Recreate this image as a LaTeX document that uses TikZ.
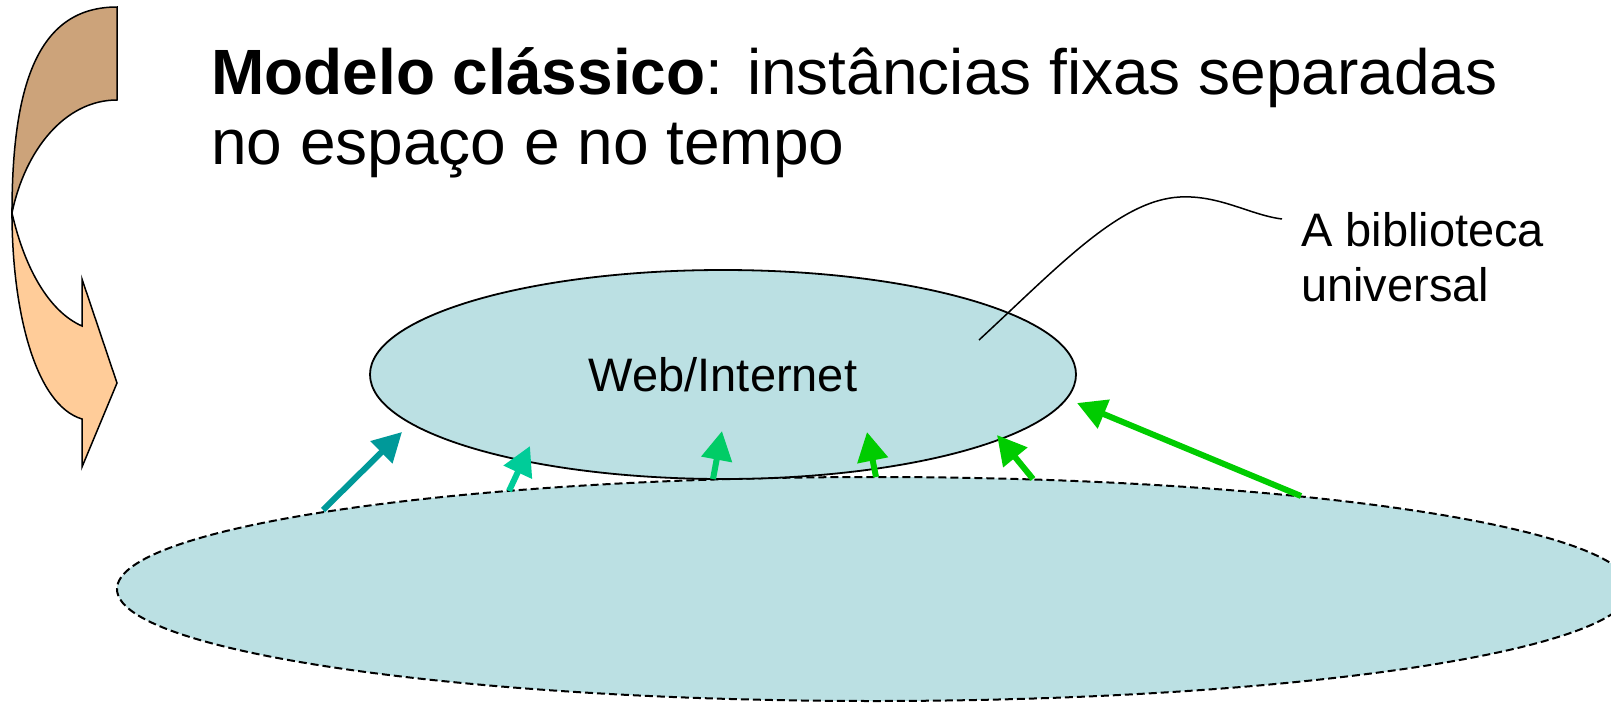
\documentclass[tikz,border=0pt]{standalone}
\usepackage{fontspec}
\setmainfont{Liberation Sans}
\usetikzlibrary{shapes.geometric,arrows.meta}
\definecolor{ellfill}{RGB}{187,224,227}
\definecolor{tanc}{RGB}{204,163,122}
\definecolor{peach}{RGB}{255,204,153}
\definecolor{ca}{RGB}{0,153,153}
\definecolor{cb}{RGB}{0,204,153}
\definecolor{cc}{RGB}{0,204,102}
\definecolor{cd}{RGB}{0,204,0}
\tikzset{
  upar/.style={line width=6pt, -{Triangle[length=29pt,width=30pt]}},
  blob/.style={ellipse, inner sep=0pt, fill=ellfill, draw=black},
  shapeline/.style={draw=black, line width=1.5pt, line join=miter},
  bigtext/.style={anchor=base west, inner sep=0pt, font=\fontsize{64}{74}\selectfont},
  labtext/.style={anchor=base west, inner sep=0pt, font=\fontsize{47}{54}\selectfont}
}
\begin{document}
\begin{tikzpicture}[x=1pt,y=-1pt]
\useasboundingbox (0,0) rectangle (1611,704);
% curved arrow
\path[shapeline, fill=peach] (12,213) .. controls (12,310) and (35,405) .. (82,419) -- (82,467) -- (117,383) -- (82,279) -- (82,326) .. controls (50,312) and (25,270) .. (12,213) -- cycle;
\path[shapeline, fill=tanc] (117,7) -- (117,100) .. controls (65,100) and (25,150) .. (12,213) .. controls (12,80) and (40,7) .. (117,7) -- cycle;
% title
\node[bigtext] (t1) at (211,94) {\textbf{Modelo clássico}: instâncias fixas separadas};
\node[bigtext] (t2) at (211,164) {no espaço e no tempo};
% ellipses
\node[blob, dashed, dash pattern=on 8pt off 4pt, line width=2pt, minimum width=1514pt, minimum height=224pt] (lib) at (874,589) {};
\node[blob, line width=1.8pt, minimum width=706pt, minimum height=209pt, font=\fontsize{47}{54}\selectfont] (web) at (723,374.5) {Web/Internet};
% label
\node[labtext] (l1) at (1301,246) {A biblioteca};
\node[labtext] (l2) at (1301,301) {universal};
\coordinate (callA) at (979,340);
\coordinate (callB) at (1282,219);
\draw[line width=1.5pt] (callA) .. controls (1060,265) and (1120,200) .. (1180,197) .. controls (1220,195) and (1250,215) .. (callB);
% arrows
\coordinate (a1s) at (323,510); \coordinate (a1e) at (402,432);
\coordinate (a2s) at (509,491); \coordinate (a2e) at (530,446);
\coordinate (a3s) at (713,479); \coordinate (a3e) at (722,431);
\coordinate (a4s) at (876,477); \coordinate (a4e) at (867,432);
\coordinate (a5s) at (1033,479); \coordinate (a5e) at (997,435);
\coordinate (a6s) at (1301,496); \coordinate (a6e) at (1077,403);
\draw[upar, ca] (a1s) -- (a1e);
\draw[upar, cb] (a2s) -- (a2e);
\draw[upar, cc] (a3s) -- (a3e);
\draw[upar, cd] (a4s) -- (a4e);
\draw[upar, cd] (a5s) -- (a5e);
\draw[upar, cd] (a6s) -- (a6e);
\end{tikzpicture}
\end{document}
